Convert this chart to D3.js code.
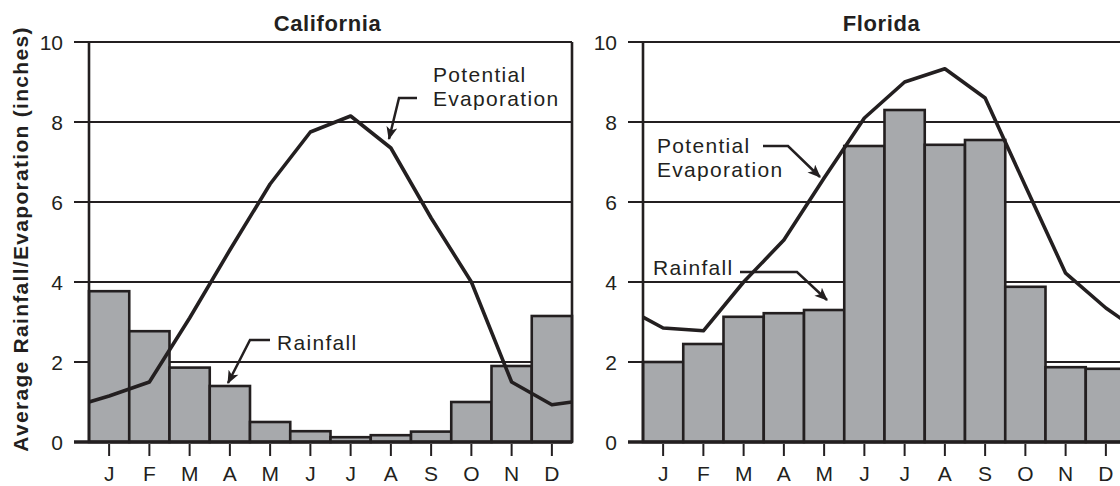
<!DOCTYPE html>
<html>
<head>
<meta charset="utf-8">
<script src="https://cdn.jsdelivr.net/npm/d3@7"></script>
<style>
  body { margin: 0; background: #fff; }
  svg { display: block; font-family: "Liberation Sans", Arial, Helvetica, sans-serif; }
</style>
</head>
<body>
<svg width="1120" height="486"></svg>
<script>
// monthly averages, inches
var months = ["J", "F", "M", "A", "M", "J", "J", "A", "S", "O", "N", "D"];
var yTicks = [0, 2, 4, 6, 8, 10];

var caRain = [3.77, 2.77, 1.86, 1.4, 0.5, 0.27, 0.12, 0.17, 0.26, 1.0, 1.9, 3.15];
var caEvap = [1.15, 1.5, 3.1, 4.8, 6.45, 7.75, 8.15, 7.35, 5.6, 4.0, 1.5, 0.93];
var caEvapEnds = [1.0, 1.0];   // where the curve meets the left / right edge

var flRain = [2.0, 2.45, 3.13, 3.22, 3.3, 7.4, 8.3, 7.43, 7.55, 3.88, 1.87, 1.83];
var flEvap = [2.85, 2.78, 4.0, 5.05, 6.6, 8.1, 9.0, 9.33, 8.6, 6.4, 4.22, 3.35];
var flEvapEnds = [3.12, 3.0];

var ink = "#231f20",
    barFill = "#a7a9ac";

var svg = d3.select("svg");

var y = d3.scaleLinear().domain([0, 10]).range([442, 42]);

var defs = svg.append("defs");
defs.append("marker")
    .attr("id", "arrow")
    .attr("viewBox", "0 0 12 10")
    .attr("refX", 11).attr("refY", 5)
    .attr("markerUnits", "userSpaceOnUse")
    .attr("markerWidth", 14).attr("markerHeight", 11)
    .attr("orient", "auto")
  .append("path")
    .attr("d", "M0,0 L12,5 L0,10 L3,5 Z")
    .attr("fill", ink);

// y axis title
svg.append("text")
    .attr("transform", "translate(28,239) rotate(-90)")
    .attr("text-anchor", "middle")
    .style("font-size", "21px")
    .style("font-weight", "bold")
    .style("letter-spacing", "1.3px")
    .attr("fill", ink)
    .text("Average Rainfall/Evaporation (inches)");

function panel(x0, x1, title, rain, evap, ends, notes) {
  var g = svg.append("g");

  var x = d3.scaleBand().domain(d3.range(12)).range([x0, x1]).padding(0);

  // gridlines (drawn first, bars cover them)
  g.selectAll(".grid")
    .data(yTicks.filter(function(d) { return d > 0; }))
    .enter().append("line")
      .attr("x1", x0 - 15).attr("x2", x1)
      .attr("y1", function(d) { return y(d); })
      .attr("y2", function(d) { return y(d); })
      .attr("stroke", ink).attr("stroke-width", 2);

  g.selectAll(".ylab")
    .data(yTicks)
    .enter().append("text")
      .attr("x", x0 - 26)
      .attr("y", function(d) { return y(d); })
      .attr("dy", "0.36em")
      .attr("text-anchor", "end")
      .style("font-size", "21px")
      .attr("fill", ink)
      .text(function(d) { return d; });

  // bars
  g.selectAll("rect")
    .data(rain)
    .enter().append("rect")
      .attr("x", function(d, i) { return x(i); })
      .attr("width", x.bandwidth())
      .attr("y", function(d) { return y(d); })
      .attr("height", function(d) { return y(0) - y(d); })
      .attr("fill", barFill)
      .attr("stroke", ink)
      .attr("stroke-width", 2.6);

  // frame: left axis, right edge, baseline
  g.append("line")
    .attr("x1", x0).attr("x2", x0).attr("y1", y(10)).attr("y2", y(0))
    .attr("stroke", ink).attr("stroke-width", 2.6);
  g.append("line")
    .attr("x1", x1).attr("x2", x1).attr("y1", y(10)).attr("y2", y(0))
    .attr("stroke", ink).attr("stroke-width", 2.6);
  g.append("line")
    .attr("x1", x0 - 15).attr("x2", x1).attr("y1", y(0)).attr("y2", y(0))
    .attr("stroke", ink).attr("stroke-width", 3.5);

  // month ticks + labels
  g.selectAll(".mtick")
    .data(months)
    .enter().append("line")
      .attr("x1", function(d, i) { return x(i) + x.bandwidth() / 2; })
      .attr("x2", function(d, i) { return x(i) + x.bandwidth() / 2; })
      .attr("y1", 444).attr("y2", 456)
      .attr("stroke", ink).attr("stroke-width", 2);

  g.selectAll(".mlab")
    .data(months)
    .enter().append("text")
      .attr("x", function(d, i) { return x(i) + x.bandwidth() / 2; })
      .attr("y", 481)
      .attr("text-anchor", "middle")
      .style("font-size", "21px")
      .attr("fill", ink)
      .text(function(d) { return d; });

  // potential evaporation line, running edge to edge
  var pts = [[x0, ends[0]]];
  evap.forEach(function(v, i) { pts.push([x(i) + x.bandwidth() / 2, v]); });
  pts.push([x1, ends[1]]);

  var line = d3.line()
      .x(function(d) { return d[0]; })
      .y(function(d) { return y(d[1]); });

  g.append("path")
    .attr("d", line(pts))
    .attr("fill", "none")
    .attr("stroke", ink)
    .attr("stroke-width", 3.6)
    .attr("stroke-linejoin", "round");

  // title
  g.append("text")
    .attr("x", (x0 + x1) / 2 - 3)
    .attr("y", 31)
    .attr("text-anchor", "middle")
    .style("font-size", "22px")
    .style("font-weight", "bold")
    .style("letter-spacing", "0.6px")
    .attr("fill", ink)
    .text(title);

  // annotations
  notes.forEach(function(n) {
    var t = g.append("text")
      .attr("x", n.x).attr("y", n.y)
      .style("font-size", "21px")
      .style("letter-spacing", "1.3px")
      .attr("fill", ink);
    n.lines.forEach(function(s, i) {
      t.append("tspan").attr("x", n.x).attr("dy", i ? 24 : 0).text(s);
    });
    g.append("path")
      .attr("d", d3.line()(n.arrow))
      .attr("fill", "none")
      .attr("stroke", ink)
      .attr("stroke-width", 2.5)
      .attr("marker-end", "url(#arrow)");
  });
}

panel(89, 572, "California", caRain, caEvap, caEvapEnds, [
  { x: 433, y: 82, lines: ["Potential", "Evaporation"], arrow: [[417, 98], [399, 98], [389, 139]] },
  { x: 277, y: 350, lines: ["Rainfall"], arrow: [[270, 340], [250, 340], [228, 383]] }
]);

panel(643, 1126, "Florida", flRain, flEvap, flEvapEnds, [
  { x: 657, y: 153, lines: ["Potential", "Evaporation"], arrow: [[763, 146], [788, 146], [820, 177]] },
  { x: 653, y: 275, lines: ["Rainfall"], arrow: [[740, 272], [797, 272], [827, 300]] }
]);
</script>
</body>
</html>
